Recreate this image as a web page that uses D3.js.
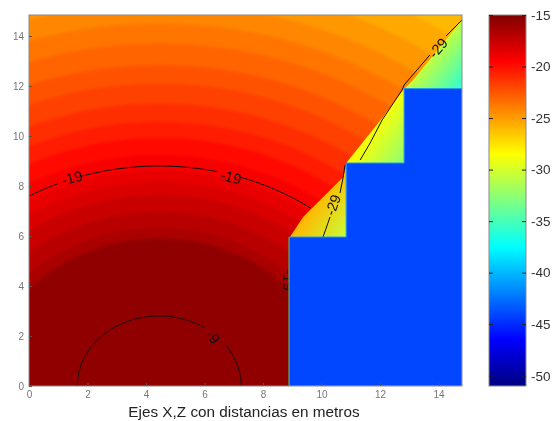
<!DOCTYPE html>
<html>
<head>
<meta charset="utf-8">
<script src="https://cdn.jsdelivr.net/npm/d3@7"></script>
<style>
  html, body { margin: 0; padding: 0; background: #fff; }
  svg { display: block; filter: blur(0.55px); font-family: "Liberation Sans", Arial, sans-serif; }
</style>
</head>
<body>
<svg id="chart" width="552" height="421"></svg>
<script>
// axis ticks
var xTicks = [0, 2, 4, 6, 8, 10, 12, 14]
var yTicks = [0, 2, 4, 6, 8, 10, 12, 14]
var barTicks = [-15, -20, -25, -30, -35, -40, -45, -50]

// colormap (jet, flipped) : level -> colour
var jetLevels = [-15, -19.5, -24, -28.5, -33, -37.5, -42, -46.5, -51]
var jetColors = ["#800000", "#ff0000", "#ff8000", "#ffff00", "#80ff80", "#00ffff", "#0080ff", "#0000ff", "#000080"]

// source of the radial bands, and band edges read along x = 4.45
var sourceX = 4.45
var sourceY = 0
var bandRadius = [5.9, 6.32, 6.96, 7.64, 8.16, 8.64, 9.24, 9.92, 10.56, 11.3, 12.1, 12.84, 13.7, 14.5, 15.3, 16.2, 17.2, 22]
var bandLevel = [-15.6, -16.5, -17, -17.6, -18.2, -18.7, -19.2, -19.8, -20.5, -21.1, -21.8, -22.4, -23, -23.6, -24.2, -24.8, -25.4, -26]

// edge between direct field and shadow zone
var edgeX = [8.92, 9.37, 10.74, 10.87, 12.1, 12.79, 13.13, 14.8]
var edgeY = [5.96, 6.76, 8.36, 8.96, 10.76, 11.84, 12.24, 14.64]

// stairs of the blue block
var stairX = [8.89, 8.89, 10.84, 10.84, 12.82, 12.82, 14.8, 14.8]
var stairY = [0, 5.96, 5.96, 8.92, 8.92, 11.9, 11.9, 0]
var blockLevel = -44

// shadow zones, one for each stair
var shadeLeft = [8.89, 10.84, 12.82]
var shadeRight = [10.84, 12.82, 14.8]
var shadeBottom = [5.96, 8.92, 11.9]
var shadeTop = [8.96, 11.9, 14.8]
var shadeFromX = [9.6, 11.5, 13.6]
var shadeFromY = [7.0, 10.0, 13.0]
var shadeNearLevel = [-26, -28.5, -30.5]
var shadeFarLevel = [-30.5, -32.5, -36]

// contours: radius and visible arcs in degrees
var arcRadius = [8.8, 8.8, 8.8, 2.8, 2.8]
var arcFrom = [54, 76.8, 113.2, 0, 56]
var arcTo = [71.7, 107.5, 125, 35, 180]

var line29aX = [10.05, 10.29]
var line29aY = [5.96, 6.76]
var line29bX = [10.63, 10.74, 10.8]
var line29bY = [7.72, 8.36, 8.84]
var line29cX = [11.32, 11.66, 12.07, 12.75, 12.82, 13.7]
var line29cY = [9.04, 9.72, 10.64, 11.84, 12.04, 13.24]
var line29dX = [14.26, 14.8]
var line29dY = [14, 14.64]

var labelText = ["-19", "-19", "-9", "-29", "-29", "-19"]
var labelX = [1.47, 6.9, 6.29, 10.39, 13.98, 8.85]
var labelY = [8.32, 8.36, 1.96, 7.24, 13.52, 4.24]
var labelAngle = [-15, 15, 50, -70, -50, 90]

var svg = d3.select("#chart")

var x = d3.scaleLinear().domain([0, 14.8]).range([29, 462])
var y = d3.scaleLinear().domain([0, 14.84]).range([386, 15])
var barY = d3.scaleLinear().domain([-15, -51]).range([15, 386])
var jet = d3.scaleLinear().domain(jetLevels).range(jetColors).clamp(true)

var defs = svg.append("defs")
var toPath = d3.line().x(function(p){ return x(p[0]) }).y(function(p){ return y(p[1]) })

defs.append("clipPath").attr("id", "plotClip").append("rect")
    .attr("x", x(0)).attr("y", y(14.84)).attr("width", x(14.8) - x(0)).attr("height", y(0) - y(14.84))

// everything above the edge line
var litPoints = [[0, 0], [8.89, 0]]
    .concat(edgeX.map(function(v, i){ return [v, edgeY[i]] }))
    .concat([[14.8, 14.84], [0, 14.84]])
defs.append("clipPath").attr("id", "litClip").append("path").attr("d", toPath(litPoints) + "Z")

var plot = svg.append("g").attr("clip-path", "url(#plotClip)")

// shadow zones first, the direct field covers what is above the edge
shadeLeft.forEach(function(left, i){
  var grad = defs.append("linearGradient").attr("id", "shade" + i)
      .attr("gradientUnits", "userSpaceOnUse")
      .attr("x1", x(shadeFromX[i])).attr("y1", y(shadeFromY[i]))
      .attr("x2", x(shadeRight[i])).attr("y2", y(shadeBottom[i]))
  grad.append("stop").attr("offset", 0).attr("stop-color", jet(shadeNearLevel[i]))
  grad.append("stop").attr("offset", 1).attr("stop-color", jet(shadeFarLevel[i]))
  plot.append("rect")
      .attr("x", x(left)).attr("y", y(shadeTop[i]))
      .attr("width", x(shadeRight[i]) - x(left))
      .attr("height", y(shadeBottom[i]) - y(shadeTop[i]))
      .attr("fill", "url(#shade" + i + ")")
})

// bands get their own soft blur, the clip on the parent keeps the edge sharp
var lit = plot.append("g").attr("clip-path", "url(#litClip)")
    .append("g").style("filter", "blur(1.6px)")
lit.append("rect")
    .attr("x", 0).attr("y", 0).attr("width", 552).attr("height", 421)
    .attr("fill", jet(bandLevel[bandLevel.length - 1]))
d3.range(bandRadius.length - 1, -1, -1).forEach(function(i){
  lit.append("ellipse")
      .attr("cx", x(sourceX)).attr("cy", y(sourceY))
      .attr("rx", x(bandRadius[i]) - x(0))
      .attr("ry", y(0) - y(bandRadius[i]))
      .attr("fill", jet(bandLevel[i]))
})

var contours = plot.append("g").attr("fill", "none").attr("stroke", "#111").attr("stroke-width", 1)
arcRadius.forEach(function(r, i){
  var pts = d3.range(arcFrom[i], arcTo[i] + 0.5, 1).map(function(deg){
    var a = deg * Math.PI / 180
    return [sourceX + r * Math.cos(a), sourceY + r * Math.sin(a)]
  })
  contours.append("path").attr("d", toPath(pts))
})
var lines29 = [[line29aX, line29aY], [line29bX, line29bY], [line29cX, line29cY], [line29dX, line29dY]]
lines29.forEach(function(l){
  contours.append("path").attr("d", toPath(l[0].map(function(v, i){ return [v, l[1][i]] })))
})

plot.selectAll("text.clabel")
    .data(labelText)
    .enter()
    .append("text")
    .attr("class", "clabel")
    .attr("text-anchor", "middle")
    .attr("dy", "0.35em")
    .attr("font-size", 14.5)
    .attr("fill", "#111")
    .attr("transform", function(d, i){
      return "translate(" + x(labelX[i]) + "," + y(labelY[i]) + ") rotate(" + labelAngle[i] + ")"
    })
    .text(function(d){ return d })

// blue block, with the light rim the original has on its edges
plot.append("path")
    .attr("d", toPath(stairX.map(function(v, i){ return [v, stairY[i]] })) + "Z")
    .attr("fill", jet(blockLevel))
    .attr("stroke", "#1e9ee8")
    .attr("stroke-width", 1)
plot.append("path")
    .attr("d", toPath([[stairX[0], stairY[0]], [stairX[1], stairY[1]]]))
    .attr("fill", "none")
    .attr("stroke", "#8c8c20")
    .attr("stroke-width", 1)

// frame and axes of the map
svg.append("rect")
    .attr("x", x(0)).attr("y", y(14.84)).attr("width", x(14.8) - x(0)).attr("height", y(0) - y(14.84))
    .attr("fill", "none").attr("stroke", "#8a8a8a").attr("stroke-width", 1)

var xAxis = svg.append("g").attr("transform", "translate(0," + y(0) + ")")
    .call(d3.axisBottom(x).tickValues(xTicks).tickSize(-3).tickPadding(5))
var yAxis = svg.append("g").attr("transform", "translate(" + x(0) + ",0)")
    .call(d3.axisLeft(y).tickValues(yTicks).tickSize(-3).tickPadding(5))
xAxis.select(".domain").remove()
yAxis.select(".domain").remove()
svg.selectAll("g.tick text").attr("font-size", 10).attr("fill", "#777").attr("font-family", "Liberation Sans")
svg.selectAll("g.tick line").attr("stroke", "#555")

svg.append("text")
    .attr("x", 244).attr("y", 417)
    .attr("text-anchor", "middle")
    .attr("font-size", 15.3)
    .attr("fill", "#222")
    .text("Ejes X,Z con distancias en metros")

// colour bar
var barLeft = 489
var barRight = 526
var barGrad = defs.append("linearGradient").attr("id", "barGrad")
    .attr("x1", 0).attr("y1", 0).attr("x2", 0).attr("y2", 1)
jetLevels.forEach(function(v){
  barGrad.append("stop")
      .attr("offset", (barY(v) - barY(-15)) / (barY(-51) - barY(-15)))
      .attr("stop-color", jet(v))
})
svg.append("rect")
    .attr("x", barLeft).attr("y", barY(-15))
    .attr("width", barRight - barLeft).attr("height", barY(-51) - barY(-15))
    .attr("fill", "url(#barGrad)")
    .attr("stroke", "#8a8a8a").attr("stroke-width", 1)

var barAxis = svg.append("g").attr("transform", "translate(" + barRight + ",0)")
    .call(d3.axisRight(barY).tickValues(barTicks).tickSize(-4).tickPadding(5).tickFormat(function(d){ return String(d) }))
barAxis.select(".domain").remove()
barAxis.selectAll("line").attr("stroke", "#222")
barAxis.selectAll("text").attr("font-size", 13.5).attr("fill", "#333")
var barAxisLeft = svg.append("g").attr("transform", "translate(" + barLeft + ",0)")
    .call(d3.axisLeft(barY).tickValues(barTicks).tickSize(-4).tickFormat(""))
barAxisLeft.select(".domain").remove()
barAxisLeft.selectAll("line").attr("stroke", "#222")
</script>
</body>
</html>
